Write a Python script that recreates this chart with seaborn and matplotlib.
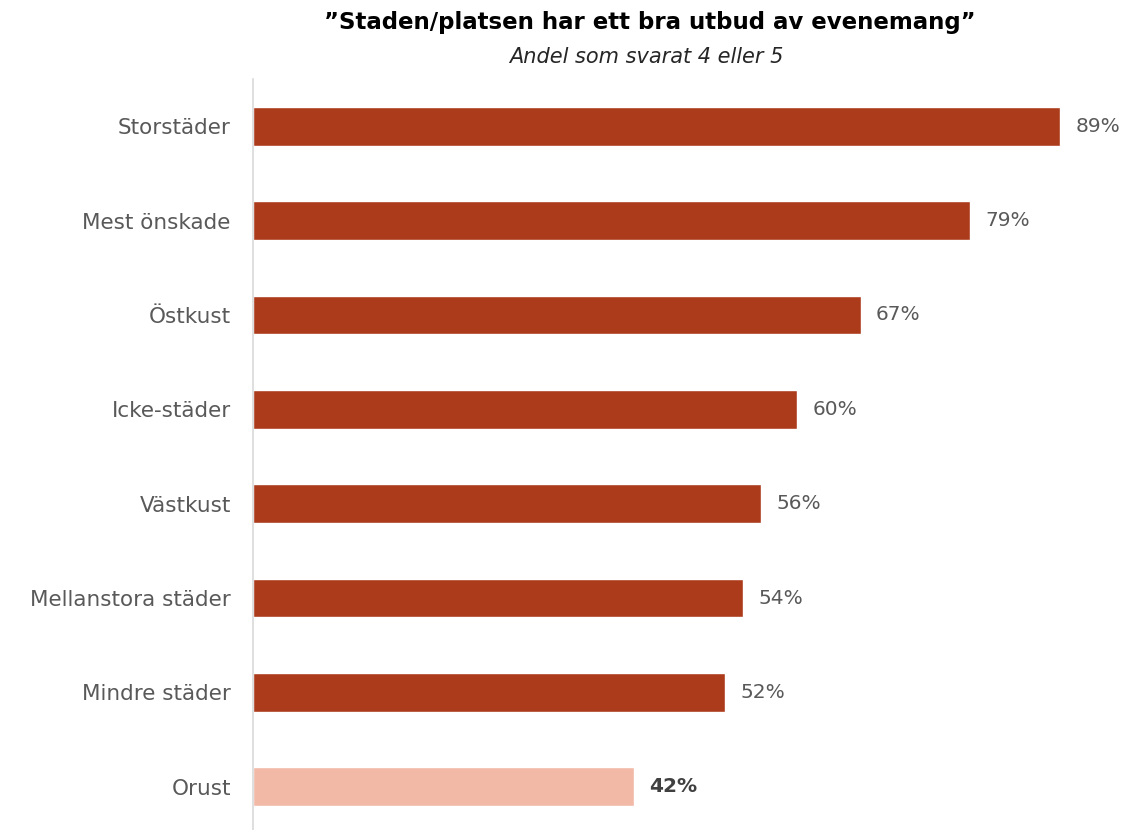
import pandas as pd
import matplotlib.pyplot as plt
import seaborn as sns

# データ
categories = ["Storstäder", "Mest önskade", "Östkust", "Icke-städer", "Västkust",
              "Mellanstora städer", "Mindre städer", "Orust"]
values = [89, 79, 67, 60, 56, 54, 52, 42]
highlight = "Orust"

df = pd.DataFrame({"kategori": categories, "andel": values})
df["grupp"] = ["Orust" if c == highlight else "Övriga" for c in categories]

sns.set_theme(style="white")
plt.rcParams["font.family"] = ["DejaVu Sans"]

dark = "#AC3B1C"
light = "#F2B9A7"
gray = "#595959"

fig = plt.figure(figsize=(11.25, 8.3), dpi=100, facecolor="white")
ax = fig.add_axes([253 / 1125, -4 / 830, (1120 - 253) / 1125, (834 - 79) / 830])

sns.barplot(data=df, y="kategori", x="andel", hue="grupp",
            palette={"Övriga": dark, "Orust": light}, saturation=1,
            dodge=False, width=0.41, legend=False, ax=ax)

ax.set_xlim(0, (1120 - 253) / 9.07)
ax.set_ylim(7.5, -0.5)

# värdeetiketter
for i, v in enumerate(values):
    bold = categories[i] == highlight
    ax.text(v + 1.7, i, f"{v}%", va="center", ha="left", fontsize=14.5,
            color="#404040" if bold else gray,
            fontweight="bold" if bold else "normal")

ax.set_xlabel("")
ax.set_ylabel("")
ax.set_xticks([])
ax.tick_params(axis="y", length=0, pad=16, labelsize=15.5, labelcolor=gray)
for s in ["top", "right", "bottom"]:
    ax.spines[s].set_visible(False)
ax.spines["left"].set_color("#D9D9D9")
ax.spines["left"].set_linewidth(1.2)

fig.text(650 / 1125, 1 - 22 / 830, "\u201dStaden/platsen har ett bra utbud av evenemang\u201d",
         ha="center", va="center", fontsize=16.5, fontweight="bold", color="black")
fig.text(646 / 1125, 1 - 57 / 830, "Andel som svarat 4 eller 5",
         ha="center", va="center", fontsize=15, style="italic", color="#262626")

plt.savefig("out.png", dpi=100, facecolor="white")
